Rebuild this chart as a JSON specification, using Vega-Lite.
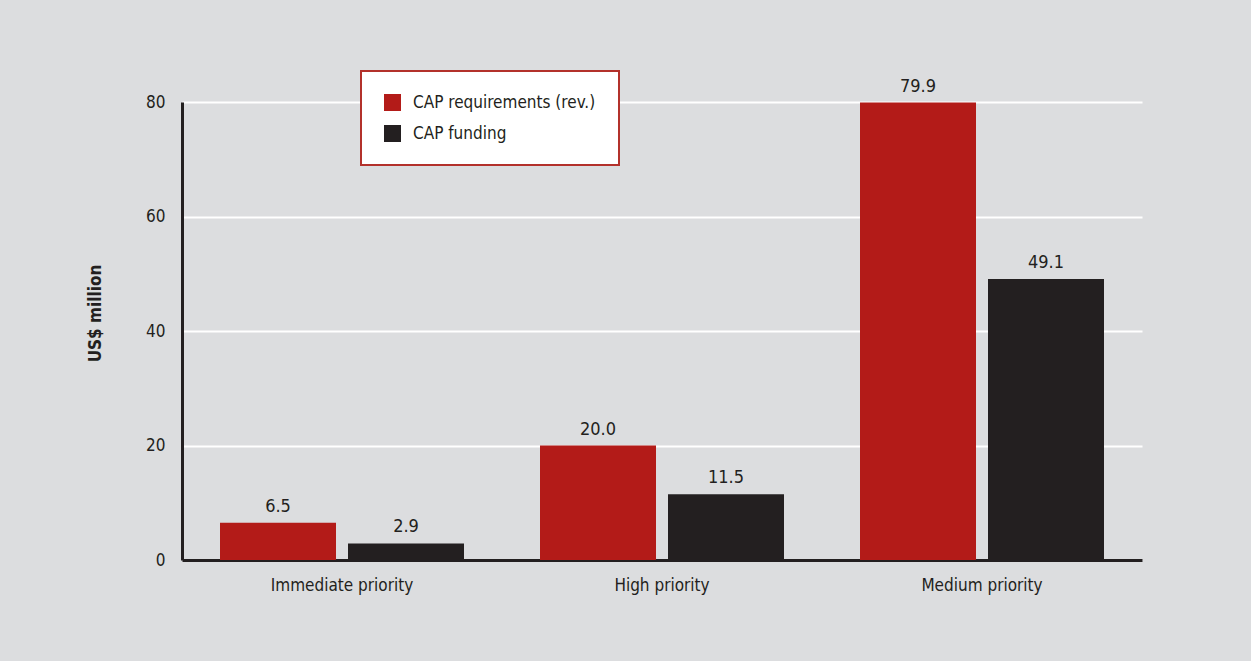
{
  "$schema": "https://vega.github.io/schema/vega-lite/v6.json",
  "width": 960,
  "height": 458,
  "autosize": {"type": "none"},
  "padding": {"left": 182, "top": 102, "right": 109, "bottom": 101},
  "background": "#dcdddf",
  "config": {
    "font": "DejaVu Sans Condensed, sans-serif",
    "view": {"stroke": null}
  },
  "data": {
    "values": [
      {"priority": "Immediate priority", "series": "CAP requirements (rev.)", "value": 6.5, "label": "6.5"},
      {"priority": "Immediate priority", "series": "CAP funding", "value": 2.9, "label": "2.9"},
      {"priority": "High priority", "series": "CAP requirements (rev.)", "value": 20.0, "label": "20.0"},
      {"priority": "High priority", "series": "CAP funding", "value": 11.5, "label": "11.5"},
      {"priority": "Medium priority", "series": "CAP requirements (rev.)", "value": 79.9, "label": "79.9"},
      {"priority": "Medium priority", "series": "CAP funding", "value": 49.1, "label": "49.1"}
    ]
  },
  "encoding": {
    "x": {
      "field": "priority", "type": "nominal",
      "sort": ["Immediate priority", "High priority", "Medium priority"],
      "scale": {"paddingInner": 0.2375, "paddingOuter": 0.11875},
      "axis": {
        "title": null, "labelAngle": 0, "labelFontSize": 17, "labelColor": "#231f20",
        "labelPadding": 17, "ticks": false, "domainColor": "#231f20", "domainWidth": 3,
        "labelFont": "DejaVu Sans Condensed, sans-serif"
      }
    },
    "xOffset": {
      "field": "series", "type": "nominal",
      "sort": ["CAP requirements (rev.)", "CAP funding"],
      "scale": {"paddingInner": 0.09375, "paddingOuter": 0}
    },
    "y": {
      "field": "value", "type": "quantitative",
      "scale": {"domain": [0, 80], "nice": false},
      "axis": {
        "title": "US$ million", "titleFontSize": 17, "titleFontWeight": "bold", "titleColor": "#231f20",
        "titleFont": "DejaVu Sans Condensed, sans-serif",
        "titleX": -87, "titleY": 211, "titleAngle": -90, "titleAlign": "center", "titleBaseline": "middle",
        "values": [0, 20, 40, 60, 80], "ticks": false, "labelPadding": 17,
        "labelFontSize": 17, "labelColor": "#231f20", "labelFont": "DejaVu Sans Condensed, sans-serif",
        "domainColor": "#231f20", "domainWidth": 3,
        "grid": true, "gridColor": "#ffffff", "gridWidth": 2
      }
    }
  },
  "layer": [
    {
      "mark": {"type": "bar"},
      "encoding": {
        "color": {
          "field": "series", "type": "nominal",
          "sort": ["CAP requirements (rev.)", "CAP funding"],
          "scale": {"domain": ["CAP requirements (rev.)", "CAP funding"], "range": ["#b31b18", "#231f20"]},
          "legend": {
            "title": null, "orient": "none", "legendX": 179, "legendY": -31,
            "fillColor": "#ffffff", "strokeColor": "#b3312b",
            "padding": 23, "symbolType": "square", "symbolSize": 289,
            "symbolStrokeWidth": 0, "symbolOpacity": 1,
            "labelFontSize": 17, "labelColor": "#231f20", "labelOffset": 12, "labelLimit": 400,
            "rowPadding": 13, "labelFont": "DejaVu Sans Condensed, sans-serif", "cornerRadius": 0,
            "encode": {"legend": {"update": {"strokeWidth": {"value": 2}}}}
          }
        }
      }
    },
    {
      "mark": {"type": "text", "baseline": "alphabetic", "dy": -11, "fontSize": 18, "color": "#231f20", "font": "DejaVu Sans Condensed, sans-serif"},
      "encoding": {"text": {"field": "label"}}
    }
  ]
}
